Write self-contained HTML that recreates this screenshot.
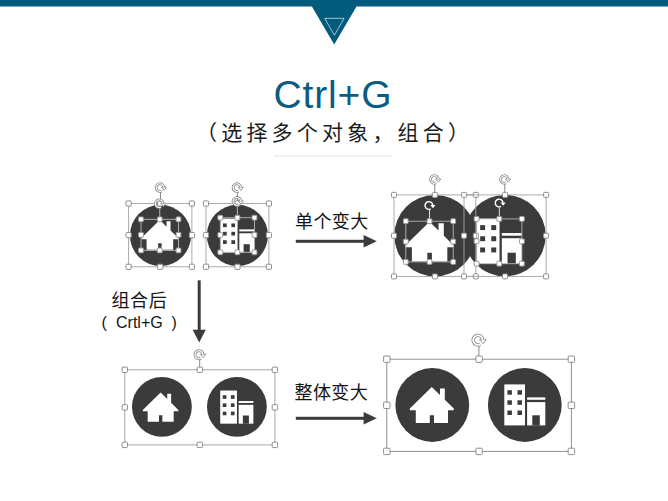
<!DOCTYPE html>
<html lang="zh">
<head>
<meta charset="utf-8">
<title>Ctrl+G</title>
<style>
html,body{margin:0;padding:0;background:#fff;font-family:"Liberation Sans",sans-serif;}
body{width:668px;height:501px;overflow:hidden;}
svg{display:block;}
.sr{position:absolute;left:0;top:0;width:1px;height:1px;margin:-1px;overflow:hidden;clip:rect(0 0 0 0);clip-path:inset(50%);white-space:nowrap;font-size:1px;color:transparent;}
</style>
</head>
<body>
<svg width="668" height="501" viewBox="0 0 668 501" role="img" aria-label="Ctrl+G (选择多个对象,组合) 单个变大 组合后 ( Crtl+G ) 整体变大">
<rect width="668" height="501" fill="#fff"/>
<path d="M0 0H668V6.6H356.5L334.2 44.4L311.9 6.6H0Z" fill="#025a7c"/>
<path d="M324.7 18.3H344.1L334.4 35.2Z" fill="none" stroke="#e6eef2" stroke-width="0.7"/>
<text x="273.5" y="107.6" font-family="&quot;Liberation Sans&quot;, sans-serif" font-size="39" fill="#0c5c82" textLength="118" lengthAdjust="spacing">Ctrl+G</text>
<text x="196" y="140" font-family="&quot;Liberation Sans&quot;, &quot;Noto Sans CJK SC&quot;, sans-serif" font-size="21" letter-spacing="4.2" fill="#1c1c1c">（选择多个对象，组合）</text>
<rect x="274" y="155.6" width="118" height="1" fill="#e3e3e3"/>
<text x="295" y="227.5" font-family="&quot;Liberation Sans&quot;, &quot;Noto Sans CJK SC&quot;, sans-serif" font-size="18" letter-spacing="0.4" fill="#141414">单个变大</text>
<text x="294.5" y="399" font-family="&quot;Liberation Sans&quot;, &quot;Noto Sans CJK SC&quot;, sans-serif" font-size="18" letter-spacing="0.4" fill="#141414">整体变大</text>
<text x="111.5" y="306.5" font-family="&quot;Liberation Sans&quot;, &quot;Noto Sans CJK SC&quot;, sans-serif" font-size="18" letter-spacing="0.6" fill="#141414">组合后</text>
<text y="328" font-family="&quot;Liberation Sans&quot;, &quot;Noto Sans CJK SC&quot;, sans-serif" font-size="16" fill="#141414" xml:space="preserve"><tspan x="101.5">( </tspan><tspan x="116">Crtl+G</tspan><tspan x="167"> )</tspan></text>
<rect x="295.8" y="239.8" width="68.80000000000001" height="3" fill="#3b3b3b"/><path d="M363.6 235.0L376.8 241.3L363.6 247.60000000000002Z" fill="#3b3b3b"/>
<rect x="295.8" y="416.8" width="68.80000000000001" height="3" fill="#3b3b3b"/><path d="M363.6 412.0L376.8 418.3L363.6 424.6Z" fill="#3b3b3b"/>
<rect x="197.7" y="280.3" width="3" height="50.5" fill="#3b3b3b"/><path d="M192.6 329.8H205.8L199.2 342.6Z" fill="#3b3b3b"/>
<circle cx="160.5" cy="235.4" r="30.6" fill="#3b3b3b"/>
<path fill="#fff" d="M159.8 220.01L166.58 226.63V221.17H170.55V230.52L177.99 237.79V239.2H173.2V249.79H161.62V243.34H158.15V249.79H146.57V239.2H141.61V237.79Z"/>
<rect x="160" y="192" width="1" height="11.5" fill="#8a8a8a"/>
<rect x="128.6" y="203.5" width="63.3" height="63.3" fill="none" stroke="#a3a3a3" stroke-width="0.9"/><rect x="126" y="200.9" width="5.2" height="5.2" rx="0.9" fill="#fff" stroke="#8e8e8e" stroke-width="1"/><rect x="157.65" y="200.9" width="5.2" height="5.2" rx="0.9" fill="#fff" stroke="#8e8e8e" stroke-width="1"/><rect x="189.3" y="200.9" width="5.2" height="5.2" rx="0.9" fill="#fff" stroke="#8e8e8e" stroke-width="1"/><rect x="126" y="232.55" width="5.2" height="5.2" rx="0.9" fill="#fff" stroke="#8e8e8e" stroke-width="1"/><rect x="189.3" y="232.55" width="5.2" height="5.2" rx="0.9" fill="#fff" stroke="#8e8e8e" stroke-width="1"/><rect x="126" y="264.2" width="5.2" height="5.2" rx="0.9" fill="#fff" stroke="#8e8e8e" stroke-width="1"/><rect x="157.65" y="264.2" width="5.2" height="5.2" rx="0.9" fill="#fff" stroke="#8e8e8e" stroke-width="1"/><rect x="189.3" y="264.2" width="5.2" height="5.2" rx="0.9" fill="#fff" stroke="#8e8e8e" stroke-width="1"/>
<path d="M161.81 191.01A3.86 3.86 0 1 1 163.85 187.33" fill="none" stroke="#8e8e8e" stroke-width="2.77"/><path d="M161.34 187.18H166.63L164.11 190.37Z" fill="#fff" stroke="#8e8e8e" stroke-width="0.9" stroke-linejoin="round"/><path d="M161.81 191.01A3.86 3.86 0 1 1 163.85 187.33" fill="none" stroke="#fff" stroke-width="1.07"/>
<rect x="159.25" y="207.7" width="1" height="11.6" fill="#b5b5b5"/>
<rect x="141.0" y="219.3" width="37.5" height="31.1" fill="none" stroke="#b5b5b5" stroke-width="0.9"/><rect x="138.6" y="216.9" width="4.8" height="4.8" rx="0.9" fill="#fff" stroke="#999" stroke-width="1"/><rect x="157.35" y="216.9" width="4.8" height="4.8" rx="0.9" fill="#fff" stroke="#999" stroke-width="1"/><rect x="176.1" y="216.9" width="4.8" height="4.8" rx="0.9" fill="#fff" stroke="#999" stroke-width="1"/><rect x="138.6" y="232.45" width="4.8" height="4.8" rx="0.9" fill="#fff" stroke="#999" stroke-width="1"/><rect x="176.1" y="232.45" width="4.8" height="4.8" rx="0.9" fill="#fff" stroke="#999" stroke-width="1"/><rect x="138.6" y="248" width="4.8" height="4.8" rx="0.9" fill="#fff" stroke="#999" stroke-width="1"/><rect x="157.35" y="248" width="4.8" height="4.8" rx="0.9" fill="#fff" stroke="#999" stroke-width="1"/><rect x="176.1" y="248" width="4.8" height="4.8" rx="0.9" fill="#fff" stroke="#999" stroke-width="1"/>
<path d="M161.06 207.11A3.86 3.86 0 1 1 163.1 203.43" fill="none" stroke="#8e8e8e" stroke-width="2.77"/><path d="M160.59 203.28H165.88L163.36 206.47Z" fill="#fff" stroke="#8e8e8e" stroke-width="0.9" stroke-linejoin="round"/><path d="M161.06 207.11A3.86 3.86 0 1 1 163.1 203.43" fill="none" stroke="#fff" stroke-width="1.07"/>
<circle cx="237.4" cy="235.4" r="30.6" fill="#3b3b3b"/>
<rect x="220.45" y="218.65" width="17.12" height="33.91" fill="#fff"/><rect x="223.01" y="223.44" width="3.72" height="3.72" fill="#3b3b3b"/><rect x="223.01" y="231.8" width="3.72" height="3.72" fill="#3b3b3b"/><rect x="223.01" y="240.23" width="3.72" height="3.72" fill="#3b3b3b"/><rect x="231.36" y="223.44" width="3.72" height="3.72" fill="#3b3b3b"/><rect x="231.36" y="231.8" width="3.72" height="3.72" fill="#3b3b3b"/><rect x="231.36" y="240.23" width="3.72" height="3.72" fill="#3b3b3b"/><rect x="239.3" y="229.4" width="15.05" height="1.98" fill="#fff"/><rect x="239.3" y="233.28" width="15.05" height="19.27" fill="#fff"/><rect x="243.6" y="244.2" width="6.2" height="8.44" fill="#3b3b3b"/>
<rect x="236.9" y="192" width="1" height="11.5" fill="#8a8a8a"/>
<rect x="206.0" y="203.5" width="62.9" height="63.3" fill="none" stroke="#a3a3a3" stroke-width="0.9"/><rect x="203.4" y="200.9" width="5.2" height="5.2" rx="0.9" fill="#fff" stroke="#8e8e8e" stroke-width="1"/><rect x="234.85" y="200.9" width="5.2" height="5.2" rx="0.9" fill="#fff" stroke="#8e8e8e" stroke-width="1"/><rect x="266.3" y="200.9" width="5.2" height="5.2" rx="0.9" fill="#fff" stroke="#8e8e8e" stroke-width="1"/><rect x="203.4" y="232.55" width="5.2" height="5.2" rx="0.9" fill="#fff" stroke="#8e8e8e" stroke-width="1"/><rect x="266.3" y="232.55" width="5.2" height="5.2" rx="0.9" fill="#fff" stroke="#8e8e8e" stroke-width="1"/><rect x="203.4" y="264.2" width="5.2" height="5.2" rx="0.9" fill="#fff" stroke="#8e8e8e" stroke-width="1"/><rect x="234.85" y="264.2" width="5.2" height="5.2" rx="0.9" fill="#fff" stroke="#8e8e8e" stroke-width="1"/><rect x="266.3" y="264.2" width="5.2" height="5.2" rx="0.9" fill="#fff" stroke="#8e8e8e" stroke-width="1"/>
<path d="M238.71 191.01A3.86 3.86 0 1 1 240.75 187.33" fill="none" stroke="#8e8e8e" stroke-width="2.77"/><path d="M238.24 187.18H243.53L241.01 190.37Z" fill="#fff" stroke="#8e8e8e" stroke-width="0.9" stroke-linejoin="round"/><path d="M238.71 191.01A3.86 3.86 0 1 1 240.75 187.33" fill="none" stroke="#fff" stroke-width="1.07"/>
<rect x="236.9" y="205.3" width="1" height="12.4" fill="#b5b5b5"/>
<rect x="220.3" y="217.7" width="34.2" height="34.6" fill="none" stroke="#b5b5b5" stroke-width="0.9"/><rect x="217.9" y="215.3" width="4.8" height="4.8" rx="0.9" fill="#fff" stroke="#999" stroke-width="1"/><rect x="235" y="215.3" width="4.8" height="4.8" rx="0.9" fill="#fff" stroke="#999" stroke-width="1"/><rect x="252.1" y="215.3" width="4.8" height="4.8" rx="0.9" fill="#fff" stroke="#999" stroke-width="1"/><rect x="217.9" y="232.6" width="4.8" height="4.8" rx="0.9" fill="#fff" stroke="#999" stroke-width="1"/><rect x="252.1" y="232.6" width="4.8" height="4.8" rx="0.9" fill="#fff" stroke="#999" stroke-width="1"/><rect x="217.9" y="249.9" width="4.8" height="4.8" rx="0.9" fill="#fff" stroke="#999" stroke-width="1"/><rect x="235" y="249.9" width="4.8" height="4.8" rx="0.9" fill="#fff" stroke="#999" stroke-width="1"/><rect x="252.1" y="249.9" width="4.8" height="4.8" rx="0.9" fill="#fff" stroke="#999" stroke-width="1"/>
<path d="M238.71 204.71A3.86 3.86 0 1 1 240.75 201.03" fill="none" stroke="#8e8e8e" stroke-width="2.77"/><path d="M238.24 200.88H243.53L241.01 204.07Z" fill="#fff" stroke="#8e8e8e" stroke-width="0.9" stroke-linejoin="round"/><path d="M238.71 204.71A3.86 3.86 0 1 1 240.75 201.03" fill="none" stroke="#fff" stroke-width="1.07"/>
<circle cx="435.0" cy="235.6" r="40.7" fill="#3b3b3b"/>
<circle cx="505.0" cy="235.6" r="40.7" fill="#3b3b3b"/>
<path fill="#fff" d="M429.5 221.8L438.52 230.6V223.34H443.8V235.77L453.7 245.45V247.32H447.32V261.4H431.92V252.82H427.3V261.4H411.9V247.32H405.3V245.45Z"/>
<rect x="476.75" y="218.75" width="22.77" height="45.1" fill="#fff"/><rect x="480.16" y="225.13" width="4.95" height="4.95" fill="#3b3b3b"/><rect x="480.16" y="236.24" width="4.95" height="4.95" fill="#3b3b3b"/><rect x="480.16" y="247.46" width="4.95" height="4.95" fill="#3b3b3b"/><rect x="491.27" y="225.13" width="4.95" height="4.95" fill="#3b3b3b"/><rect x="491.27" y="236.24" width="4.95" height="4.95" fill="#3b3b3b"/><rect x="491.27" y="247.46" width="4.95" height="4.95" fill="#3b3b3b"/><rect x="501.83" y="233.05" width="20.02" height="2.64" fill="#fff"/><rect x="501.83" y="238.22" width="20.02" height="25.63" fill="#fff"/><rect x="507.55" y="252.74" width="8.25" height="11.22" fill="#3b3b3b"/>
<rect x="434.3" y="184" width="1" height="10.9" fill="#8a8a8a"/>
<rect x="504.3" y="184" width="1" height="10.9" fill="#8a8a8a"/>
<rect x="394.0" y="194.9" width="81.8" height="81.5" fill="none" stroke="#a3a3a3" stroke-width="0.9"/><rect x="391.5" y="192.4" width="5.0" height="5.0" rx="0.9" fill="#fff" stroke="#8e8e8e" stroke-width="1"/><rect x="432.4" y="192.4" width="5.0" height="5.0" rx="0.9" fill="#fff" stroke="#8e8e8e" stroke-width="1"/><rect x="473.3" y="192.4" width="5.0" height="5.0" rx="0.9" fill="#fff" stroke="#8e8e8e" stroke-width="1"/><rect x="391.5" y="233.15" width="5.0" height="5.0" rx="0.9" fill="#fff" stroke="#8e8e8e" stroke-width="1"/><rect x="473.3" y="233.15" width="5.0" height="5.0" rx="0.9" fill="#fff" stroke="#8e8e8e" stroke-width="1"/><rect x="391.5" y="273.9" width="5.0" height="5.0" rx="0.9" fill="#fff" stroke="#8e8e8e" stroke-width="1"/><rect x="432.4" y="273.9" width="5.0" height="5.0" rx="0.9" fill="#fff" stroke="#8e8e8e" stroke-width="1"/><rect x="473.3" y="273.9" width="5.0" height="5.0" rx="0.9" fill="#fff" stroke="#8e8e8e" stroke-width="1"/>
<rect x="464.0" y="194.9" width="82.1" height="81.5" fill="none" stroke="#a3a3a3" stroke-width="0.9"/><rect x="461.5" y="192.4" width="5.0" height="5.0" rx="0.9" fill="#fff" stroke="#8e8e8e" stroke-width="1"/><rect x="502.55" y="192.4" width="5.0" height="5.0" rx="0.9" fill="#fff" stroke="#8e8e8e" stroke-width="1"/><rect x="543.6" y="192.4" width="5.0" height="5.0" rx="0.9" fill="#fff" stroke="#8e8e8e" stroke-width="1"/><rect x="461.5" y="233.15" width="5.0" height="5.0" rx="0.9" fill="#fff" stroke="#8e8e8e" stroke-width="1"/><rect x="543.6" y="233.15" width="5.0" height="5.0" rx="0.9" fill="#fff" stroke="#8e8e8e" stroke-width="1"/><rect x="461.5" y="273.9" width="5.0" height="5.0" rx="0.9" fill="#fff" stroke="#8e8e8e" stroke-width="1"/><rect x="502.55" y="273.9" width="5.0" height="5.0" rx="0.9" fill="#fff" stroke="#8e8e8e" stroke-width="1"/><rect x="543.6" y="273.9" width="5.0" height="5.0" rx="0.9" fill="#fff" stroke="#8e8e8e" stroke-width="1"/>
<path d="M436.08 182.73A3.77 3.77 0 1 1 438.07 179.14" fill="none" stroke="#8e8e8e" stroke-width="2.71"/><path d="M435.62 178.99H440.79L438.33 182.11Z" fill="#fff" stroke="#8e8e8e" stroke-width="0.9" stroke-linejoin="round"/><path d="M436.08 182.73A3.77 3.77 0 1 1 438.07 179.14" fill="none" stroke="#fff" stroke-width="1.01"/>
<path d="M506.08 182.73A3.77 3.77 0 1 1 508.07 179.14" fill="none" stroke="#8e8e8e" stroke-width="2.71"/><path d="M505.62 178.99H510.79L508.33 182.11Z" fill="#fff" stroke="#8e8e8e" stroke-width="0.9" stroke-linejoin="round"/><path d="M506.08 182.73A3.77 3.77 0 1 1 508.07 179.14" fill="none" stroke="#fff" stroke-width="1.01"/>
<rect x="429" y="210" width="1" height="11.2" fill="#e0e0e0"/>
<rect x="405.8" y="221.2" width="47.4" height="40.7" fill="none" stroke="#b5b5b5" stroke-width="0.9"/><rect x="403.4" y="218.8" width="4.8" height="4.8" rx="0.9" fill="#fff" stroke="#999" stroke-width="1"/><rect x="427.1" y="218.8" width="4.8" height="4.8" rx="0.9" fill="#fff" stroke="#999" stroke-width="1"/><rect x="450.8" y="218.8" width="4.8" height="4.8" rx="0.9" fill="#fff" stroke="#999" stroke-width="1"/><rect x="403.4" y="239.15" width="4.8" height="4.8" rx="0.9" fill="#fff" stroke="#999" stroke-width="1"/><rect x="450.8" y="239.15" width="4.8" height="4.8" rx="0.9" fill="#fff" stroke="#999" stroke-width="1"/><rect x="403.4" y="259.5" width="4.8" height="4.8" rx="0.9" fill="#fff" stroke="#999" stroke-width="1"/><rect x="427.1" y="259.5" width="4.8" height="4.8" rx="0.9" fill="#fff" stroke="#999" stroke-width="1"/><rect x="450.8" y="259.5" width="4.8" height="4.8" rx="0.9" fill="#fff" stroke="#999" stroke-width="1"/>
<path d="M430.71 208.91A3.86 3.86 0 1 1 432.75 205.23" fill="none" stroke="#fff" stroke-width="1.43"/><path d="M430.24 205.08H435.53L433.01 208.27Z" fill="#fff"/>
<rect x="498.8" y="207.5" width="1" height="11.4" fill="#e0e0e0"/>
<rect x="476.6" y="218.9" width="45.3" height="44.8" fill="none" stroke="#b5b5b5" stroke-width="0.9"/><rect x="474.2" y="216.5" width="4.8" height="4.8" rx="0.9" fill="#fff" stroke="#999" stroke-width="1"/><rect x="496.85" y="216.5" width="4.8" height="4.8" rx="0.9" fill="#fff" stroke="#999" stroke-width="1"/><rect x="519.5" y="216.5" width="4.8" height="4.8" rx="0.9" fill="#fff" stroke="#999" stroke-width="1"/><rect x="474.2" y="238.9" width="4.8" height="4.8" rx="0.9" fill="#fff" stroke="#999" stroke-width="1"/><rect x="519.5" y="238.9" width="4.8" height="4.8" rx="0.9" fill="#fff" stroke="#999" stroke-width="1"/><rect x="474.2" y="261.3" width="4.8" height="4.8" rx="0.9" fill="#fff" stroke="#999" stroke-width="1"/><rect x="496.85" y="261.3" width="4.8" height="4.8" rx="0.9" fill="#fff" stroke="#999" stroke-width="1"/><rect x="519.5" y="261.3" width="4.8" height="4.8" rx="0.9" fill="#fff" stroke="#999" stroke-width="1"/>
<path d="M500.91 206.41A3.86 3.86 0 1 1 502.95 202.73" fill="none" stroke="#fff" stroke-width="1.43"/><path d="M500.44 202.58H505.73L503.21 205.77Z" fill="#fff"/>
<circle cx="161.9" cy="406.8" r="29.9" fill="#3b3b3b"/>
<circle cx="236.9" cy="406.8" r="29.9" fill="#3b3b3b"/>
<path fill="#fff" d="M160.6 392.55L167.23 399.02V393.69H171.11V402.82L178.38 409.93V411.3H173.69V421.65H162.38V415.34H158.98V421.65H147.67V411.3H142.82V409.93Z"/>
<rect x="220.23" y="390.53" width="16.73" height="33.13" fill="#fff"/><rect x="222.74" y="395.22" width="3.64" height="3.64" fill="#3b3b3b"/><rect x="222.74" y="403.38" width="3.64" height="3.64" fill="#3b3b3b"/><rect x="222.74" y="411.63" width="3.64" height="3.64" fill="#3b3b3b"/><rect x="230.9" y="395.22" width="3.64" height="3.64" fill="#3b3b3b"/><rect x="230.9" y="403.38" width="3.64" height="3.64" fill="#3b3b3b"/><rect x="230.9" y="411.63" width="3.64" height="3.64" fill="#3b3b3b"/><rect x="238.66" y="401.04" width="14.71" height="1.94" fill="#fff"/><rect x="238.66" y="404.84" width="14.71" height="18.83" fill="#fff"/><rect x="242.86" y="415.5" width="6.06" height="8.24" fill="#3b3b3b"/>
<rect x="199.2" y="359" width="1" height="11" fill="#8a8a8a"/>
<rect x="124.8" y="369.8" width="150.1" height="75.1" fill="none" stroke="#a3a3a3" stroke-width="0.95"/><rect x="122.1" y="367.1" width="5.4" height="5.4" rx="0.9" fill="#fff" stroke="#8e8e8e" stroke-width="1"/><rect x="197.15" y="367.1" width="5.4" height="5.4" rx="0.9" fill="#fff" stroke="#8e8e8e" stroke-width="1"/><rect x="272.2" y="367.1" width="5.4" height="5.4" rx="0.9" fill="#fff" stroke="#8e8e8e" stroke-width="1"/><rect x="122.1" y="404.65" width="5.4" height="5.4" rx="0.9" fill="#fff" stroke="#8e8e8e" stroke-width="1"/><rect x="272.2" y="404.65" width="5.4" height="5.4" rx="0.9" fill="#fff" stroke="#8e8e8e" stroke-width="1"/><rect x="122.1" y="442.2" width="5.4" height="5.4" rx="0.9" fill="#fff" stroke="#8e8e8e" stroke-width="1"/><rect x="197.15" y="442.2" width="5.4" height="5.4" rx="0.9" fill="#fff" stroke="#8e8e8e" stroke-width="1"/><rect x="272.2" y="442.2" width="5.4" height="5.4" rx="0.9" fill="#fff" stroke="#8e8e8e" stroke-width="1"/>
<path d="M200.87 358.27A4.05 4.05 0 1 1 203.01 354.42" fill="none" stroke="#8e8e8e" stroke-width="2.9"/><path d="M200.38 354.26H205.92L203.28 357.6Z" fill="#fff" stroke="#8e8e8e" stroke-width="0.9" stroke-linejoin="round"/><path d="M200.87 358.27A4.05 4.05 0 1 1 203.01 354.42" fill="none" stroke="#fff" stroke-width="1.2"/>
<circle cx="432.3" cy="405.0" r="36.9" fill="#3b3b3b"/>
<circle cx="524.8" cy="405.0" r="36.9" fill="#3b3b3b"/>
<path fill="#fff" d="M431.8 387L440 395V388.4H444.8V399.7L453.8 408.5V410.2H448V423H434V415.2H429.8V423H415.8V410.2H409.8V408.5Z"/>
<rect x="504.3" y="384.4" width="20.7" height="41" fill="#fff"/><rect x="507.4" y="390.2" width="4.5" height="4.5" fill="#3b3b3b"/><rect x="507.4" y="400.3" width="4.5" height="4.5" fill="#3b3b3b"/><rect x="507.4" y="410.5" width="4.5" height="4.5" fill="#3b3b3b"/><rect x="517.5" y="390.2" width="4.5" height="4.5" fill="#3b3b3b"/><rect x="517.5" y="400.3" width="4.5" height="4.5" fill="#3b3b3b"/><rect x="517.5" y="410.5" width="4.5" height="4.5" fill="#3b3b3b"/><rect x="527.1" y="397.4" width="18.2" height="2.4" fill="#fff"/><rect x="527.1" y="402.1" width="18.2" height="23.3" fill="#fff"/><rect x="532.3" y="415.3" width="7.5" height="10.2" fill="#3b3b3b"/>
<rect x="478.4" y="345" width="1" height="14.2" fill="#8a8a8a"/>
<rect x="386.8" y="359.2" width="184.6" height="92.2" fill="none" stroke="#909090" stroke-width="1"/><rect x="383.6" y="356" width="6.4" height="6.4" rx="0.9" fill="#fff" stroke="#8e8e8e" stroke-width="1"/><rect x="475.9" y="356" width="6.4" height="6.4" rx="0.9" fill="#fff" stroke="#8e8e8e" stroke-width="1"/><rect x="568.2" y="356" width="6.4" height="6.4" rx="0.9" fill="#fff" stroke="#8e8e8e" stroke-width="1"/><rect x="383.6" y="402.1" width="6.4" height="6.4" rx="0.9" fill="#fff" stroke="#8e8e8e" stroke-width="1"/><rect x="568.2" y="402.1" width="6.4" height="6.4" rx="0.9" fill="#fff" stroke="#8e8e8e" stroke-width="1"/><rect x="383.6" y="448.2" width="6.4" height="6.4" rx="0.9" fill="#fff" stroke="#8e8e8e" stroke-width="1"/><rect x="475.9" y="448.2" width="6.4" height="6.4" rx="0.9" fill="#fff" stroke="#8e8e8e" stroke-width="1"/><rect x="568.2" y="448.2" width="6.4" height="6.4" rx="0.9" fill="#fff" stroke="#8e8e8e" stroke-width="1"/>
<path d="M480.22 344.42A4.78 4.78 0 1 1 482.75 339.87" fill="none" stroke="#8e8e8e" stroke-width="3.43"/><path d="M479.64 339.68H486.19L483.07 343.63Z" fill="#fff" stroke="#8e8e8e" stroke-width="0.9" stroke-linejoin="round"/><path d="M480.22 344.42A4.78 4.78 0 1 1 482.75 339.87" fill="none" stroke="#fff" stroke-width="1.73"/>
</svg>
<div class="sr"><h1>Ctrl+G</h1><p>(选择多个对象,组合)</p><p>单个变大</p><p>组合后 ( Crtl+G )</p><p>整体变大</p></div>
</body>
</html>
